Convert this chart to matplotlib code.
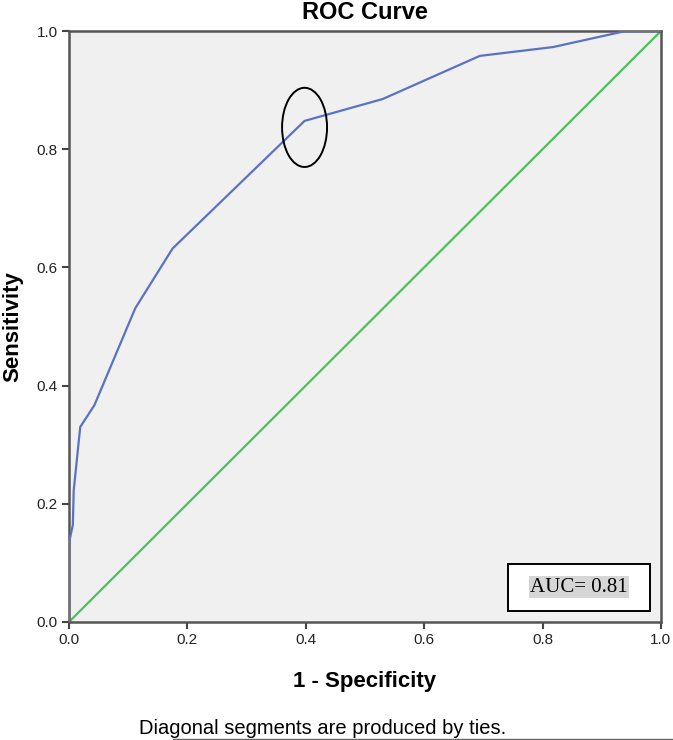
import matplotlib
matplotlib.use("Agg")
from matplotlib import pyplot as plt
from matplotlib.patches import Ellipse, Rectangle
from matplotlib.lines import Line2D
import numpy as np

# ROC points
fpr = [0.0, 0.0, 0.0065, 0.008, 0.019, 0.043, 0.112, 0.175, 0.398, 0.530, 0.694, 0.818, 0.94, 1.0]
tpr = [0.0, 0.134, 0.164, 0.223, 0.330, 0.367, 0.531, 0.632, 0.848, 0.885, 0.958, 0.973, 1.0, 1.0]
ref_line = [0.0, 1.0]
ticks = [0.0, 0.2, 0.4, 0.6, 0.8, 1.0]
tick_labels = ['0.0', '0.2', '0.4', '0.6', '0.8', '1.0']
auc_text = 'AUC= 0.81'
marked_point = (0.398, 0.837)

plt.rcParams['font.family'] = ['Liberation Sans', 'DejaVu Sans']

Figure = plt.figure(figsize=(6.73, 7.40), dpi=100)
Graph = Figure.add_axes([0.1025, 0.1595, 0.8795, 0.7985])
Graph.set_facecolor('#f0f0f0')

Graph.plot(ref_line, ref_line, '-', color='#4cc05a', linewidth=1.6, zorder=2)
Graph.plot(fpr, tpr, '-', color='#5a72c4', linewidth=1.6, zorder=3)

# circled cut-off point
Graph.add_patch(Ellipse(marked_point, 0.076, 0.134, fill=False, edgecolor='black', linewidth=1.4, zorder=4))

# AUC box
Graph.add_patch(Rectangle((0.742, 0.019), 0.239, 0.079, facecolor='white', edgecolor='black', linewidth=1.4, zorder=4))
Graph.text(0.8615, 0.0585, auc_text, ha='center', va='center', fontsize=15, family='Liberation Serif',
           bbox=dict(facecolor='#d6d6d6', edgecolor='none', pad=1), zorder=5)

Graph.set_xlim((0, 1))
Graph.set_ylim((0, 1))
Graph.set_xticks(ticks)
Graph.set_xticklabels(tick_labels, fontsize=11, color='#222222')
Graph.set_yticks(ticks)
Graph.set_yticklabels(tick_labels, fontsize=11, color='#222222')
Graph.tick_params(direction='out', length=5, width=1.5, color='#444444', pad=3)

for s in Graph.spines.values():
    s.set_color('#555555')
    s.set_linewidth(1.8)

Graph.set_title('ROC Curve', fontsize=17, fontweight='bold', pad=9)
Graph.set_xlabel('1 - Specificity', fontsize=16, fontweight='bold', labelpad=17)
Graph.set_ylabel('Sensitivity', fontsize=16, fontweight='bold', labelpad=10)

Figure.text(0.479, 0.0155, 'Diagonal segments are produced by ties.', ha='center', va='center', fontsize=14.5)
Figure.add_artist(Line2D([173 / 673, 1.0], [0.0015, 0.0015], transform=Figure.transFigure, color='#666666', linewidth=1))

Figure.savefig('out.png', dpi=100)
